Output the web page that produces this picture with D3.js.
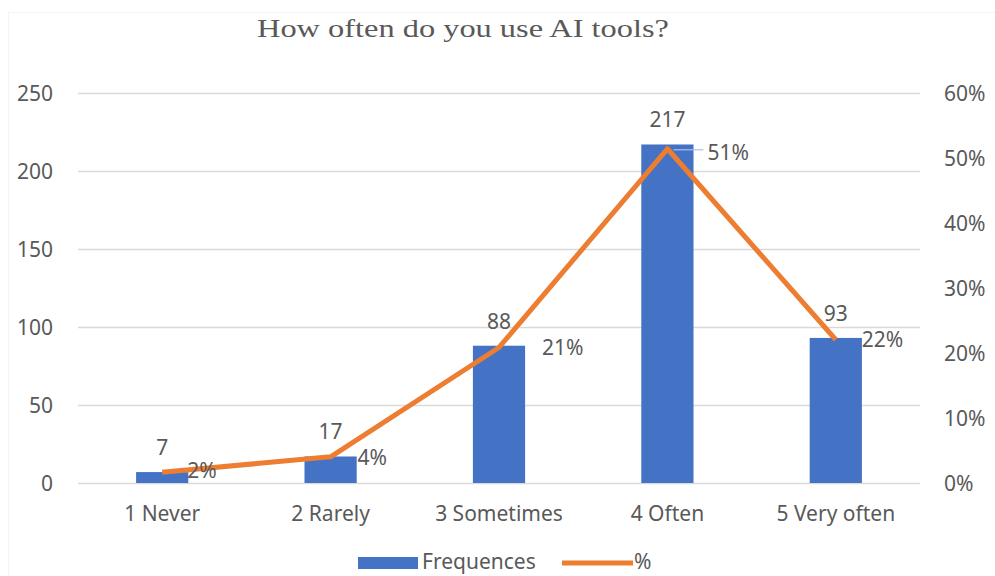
<!DOCTYPE html>
<html>
<head>
<meta charset="utf-8">
<script src="https://cdn.jsdelivr.net/npm/d3@7"></script>
<style>
  body { margin: 0; background: #fff; }
  text { font-family: "Noto Sans", "Open Sans", sans-serif; fill: #595959; }
</style>
</head>
<body>
<script>
var w = 995;
var h = 576;

// data
var categories = ["1 Never", "2 Rarely", "3 Sometimes", "4 Often", "5 Very often"];
var frequences = [7, 17, 88, 217, 93];
var percents = [0.0166, 0.0403, 0.2085, 0.5142, 0.2204];
var pctLabels = ["2%", "4%", "21%", "51%", "22%"];
var leftTicks = [0, 50, 100, 150, 200, 250];
var rightTicks = [0, 0.1, 0.2, 0.3, 0.4, 0.5, 0.6];

// label nudges (px) for the % labels
var pctNudge = [[25, 6], [27, 8], [43, 8], [40, 11], [26, 7]];

// plot area
var lp = 78, rp = 920, up = 93, bp = 483;
var fs = 21;

var svg = d3.select("body").append("svg")
    .attr("width", w)
    .attr("height", h);

// faint chart border
svg.append("rect")
    .attr("x", 8.5).attr("y", 12.5)
    .attr("width", w + 20).attr("height", h + 20)
    .attr("fill", "none")
    .attr("stroke", "#f3f3f3");

var x = d3.scaleBand().domain(categories).range([lp, rp]).paddingInner(0).paddingOuter(0);
var yL = d3.scaleLinear().domain([0, 250]).range([bp, up]);
var yR = d3.scaleLinear().domain([0, 0.6]).range([bp, up]);

var barW = x.bandwidth() * 0.31;

// gridlines
svg.append("g").selectAll("line")
    .data(leftTicks)
    .enter().append("line")
    .attr("x1", lp).attr("x2", rp)
    .attr("y1", function(d){ return Math.round(yL(d)) + 0.5; })
    .attr("y2", function(d){ return Math.round(yL(d)) + 0.5; })
    .attr("stroke", "#d9d9d9")
    .attr("stroke-width", 1.5);

// left axis
var leftAxis = svg.append("g")
    .attr("transform", "translate(" + 53 + ",0)")
    .call(d3.axisLeft(yL).tickValues(leftTicks).tickSize(0).tickPadding(0));
leftAxis.select(".domain").remove();
leftAxis.selectAll("text")
    .attr("font-size", fs)
    .attr("font-family", "Noto Sans")
    .attr("fill", "#595959")
    .attr("dy", "0.35em");

// right axis
var rightAxis = svg.append("g")
    .attr("transform", "translate(" + 944 + ",0)")
    .call(d3.axisRight(yR).tickValues(rightTicks).tickSize(0).tickPadding(0).tickFormat(d3.format(".0%")));
rightAxis.select(".domain").remove();
rightAxis.selectAll("text")
    .attr("font-size", fs)
    .attr("font-family", "Noto Sans")
    .attr("fill", "#595959")
    .attr("dy", "0.35em");

// bottom axis
var bottomAxis = svg.append("g")
    .attr("transform", "translate(0," + bp + ")")
    .call(d3.axisBottom(x).tickSize(0).tickPadding(0));
bottomAxis.select(".domain").remove();
bottomAxis.selectAll("text")
    .attr("font-size", fs)
    .attr("font-family", "Noto Sans")
    .attr("fill", "#595959")
    .attr("dy", "1.8em");

// bars
svg.append("g").selectAll("rect")
    .data(frequences)
    .enter().append("rect")
    .attr("x", function(d, i){ return x(categories[i]) + x.bandwidth()/2 - barW/2; })
    .attr("y", function(d){ return yL(d); })
    .attr("width", barW)
    .attr("height", function(d){ return bp - yL(d); })
    .attr("fill", "#4472C4");

// bar value labels
svg.append("g").selectAll("text")
    .data(frequences)
    .enter().append("text")
    .attr("x", function(d, i){ return x(categories[i]) + x.bandwidth()/2; })
    .attr("y", function(d){ return yL(d) - 17; })
    .attr("text-anchor", "middle")
    .attr("font-size", fs)
    .text(function(d){ return d; });

// leader line near 51%
svg.append("line")
    .attr("x1", x(categories[3]) + x.bandwidth()/2 + 6)
    .attr("x2", x(categories[3]) + x.bandwidth()/2 + 36)
    .attr("y1", yR(percents[3]) + 1)
    .attr("y2", yR(percents[3]) + 1)
    .attr("stroke", "#a9c0e8")
    .attr("stroke-width", 1.2);

// % line
var line = d3.line()
    .x(function(d, i){ return x(categories[i]) + x.bandwidth()/2; })
    .y(function(d){ return yR(d); });

svg.append("path")
    .datum(percents)
    .attr("d", line)
    .attr("fill", "none")
    .attr("stroke", "#ED7D31")
    .attr("stroke-width", 5)
    .attr("stroke-linejoin", "round");

// % labels
svg.append("g").selectAll("text")
    .data(percents)
    .enter().append("text")
    .attr("x", function(d, i){ return x(categories[i]) + x.bandwidth()/2 + pctNudge[i][0]; })
    .attr("y", function(d, i){ return yR(d) + pctNudge[i][1]; })
    .attr("font-size", fs)
    .text(function(d, i){ return pctLabels[i]; });

// title
svg.append("text")
    .attr("x", 463)
    .attr("y", 37)
    .attr("text-anchor", "middle")
    .attr("font-size", 26)
    .attr("textLength", 412)
    .attr("lengthAdjust", "spacingAndGlyphs")
    .style("font-family", "'Liberation Serif', serif")
    .text("How often do you use AI tools?");

// legend
var legend = svg.append("g");
legend.append("rect")
    .attr("x", 358).attr("y", 557)
    .attr("width", 60).attr("height", 12)
    .attr("fill", "#4472C4");
legend.append("text")
    .attr("x", 422).attr("y", 569)
    .attr("font-size", fs)
    .text("Frequences");
legend.append("line")
    .attr("x1", 562).attr("x2", 633)
    .attr("y1", 563).attr("y2", 563)
    .attr("stroke", "#ED7D31")
    .attr("stroke-width", 5);
legend.append("text")
    .attr("x", 634).attr("y", 569)
    .attr("font-size", fs)
    .text("%");
</script>
</body>
</html>
